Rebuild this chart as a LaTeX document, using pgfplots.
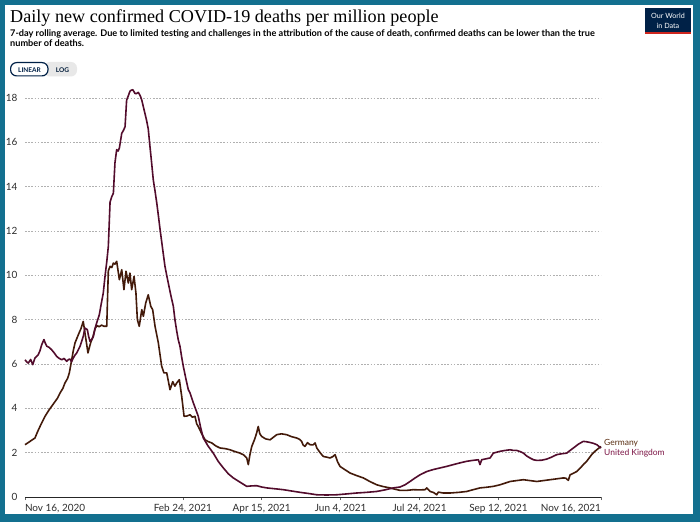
\documentclass[border=0pt]{standalone}
\usepackage{fontspec}
\setmainfont{Lato}
\newfontfamily\titlefont{Liberation Serif}
\usepackage{pgfplots}
\pgfplotsset{compat=1.18}

\definecolor{owidframe}{HTML}{13708F}
\definecolor{germany}{HTML}{431A0A}
\definecolor{uk}{HTML}{520C2C}
\definecolor{germanylbl}{HTML}{5A2E12}
\definecolor{uklbl}{HTML}{7C1545}
\definecolor{owidblue}{HTML}{002147}
\definecolor{owidred}{HTML}{CE261E}
\definecolor{ticktext}{HTML}{2E2E2E}
\definecolor{gridgray}{HTML}{B0B0B0}

\begin{document}
\begin{tikzpicture}
\path[use as bounding box] (0,0) rectangle (700bp,522bp);
\begin{scope}[x=1bp, y=-1bp, shift={(0,522bp)}]
% frame
\fill[owidframe] (0,0) rectangle (700,522);
\fill[white] (5,5) rectangle (693,514);

% title and subtitle
\node[anchor=base west, inner sep=0] at (10,23)
  {\titlefont\fontsize{18.2}{18}\selectfont Daily new confirmed COVID-19 deaths per million people};
\node[anchor=base west, inner sep=0] at (10,36.5)
  {\bfseries\fontsize{9.2}{10}\selectfont 7-day rolling average. Due to limited testing and challenges in the attribution of the cause of death, confirmed deaths can be lower than the true};
\node[anchor=base west, inner sep=0] at (10,46.5)
  {\bfseries\fontsize{9.2}{10}\selectfont number of deaths.};

% LINEAR / LOG switch
\fill[gray!18, rounded corners=6bp] (44,62) rectangle (77,76.5);
\fill[white, rounded corners=6bp] (10,62) rectangle (48,76.5);
\draw[owidblue, line width=1.2bp, rounded corners=6bp] (10.6,62.6) rectangle (48,75.9);
\node[inner sep=0, anchor=base] at (29.5,72.3) {\bfseries\fontsize{6.5}{7}\selectfont\color{owidblue}LINEAR};
\node[inner sep=0, anchor=base] at (62.5,72.3) {\bfseries\fontsize{6.5}{7}\selectfont\color{owidblue!80!black}LOG};

% logo
\fill[owidblue] (645,8) rectangle (691,34);
\fill[owidred] (645,32.5) rectangle (691,34);
\node[inner sep=0, anchor=base, text=white] at (668,19) {\fontsize{7.2}{7}\selectfont Our World};
\node[inner sep=0, anchor=base, text=white] at (668,28.5) {\fontsize{7.2}{7}\selectfont in Data};

% series labels at the line ends
\node[anchor=west, inner sep=0, text=germanylbl] at (604,443) {\fontsize{8.5}{9}\selectfont Germany};
\node[anchor=west, inner sep=0, text=uklbl] at (604,453) {\fontsize{8.5}{9}\selectfont United Kingdom};
\end{scope}

\begin{axis}[
  at={(25bp,25bp)}, anchor=south west,
  scale only axis, width=576bp, height=412.4bp,
  xmin=0, xmax=365, ymin=0, ymax=18.6,
  axis x line*=bottom, axis y line*=left,
  x axis line style={draw=black!85, line width=0.8bp},
  y axis line style={draw=none},
  ytick={0,2,...,18}, ytick style={draw=none},
  xtick={0,100,150,200,250,300,365},
  xticklabels={{\makebox[0pt][l]{Nov 16, 2020}},{Feb 24, 2021},{Apr 15, 2021},{Jun 4, 2021},{Jul 24, 2021},{Sep 12, 2021},{\makebox[0pt][r]{Nov 16, 2021}}},
  tick align=outside, major tick length=3bp,
  xtick style={draw=black!60, line width=0.6bp},
  ymajorgrids, grid style={gridgray, line width=0.6bp, dash pattern=on 1.6bp off 1.6bp},
  /pgf/number format/assume math mode=true,
  tick label style={font=\fontsize{10}{10}\selectfont, text=ticktext},
  yticklabel style={xshift=-1bp},
  xticklabel style={yshift=-1bp},
  clip=false,
]
% Germany
\addplot[germany, line width=1.6bp, line join=round] coordinates {
(0,2.36) (2,2.45) (4,2.55) (6.3,2.66) (8,2.95) (9.5,3.18) (11,3.4) (12.7,3.64) (15,3.9) (16.9,4.09)
(19,4.3) (20.5,4.45) (22.2,4.69) (24,4.9) (25.3,5.14) (27,5.35) (28.1,5.6) (29.6,6.19) (30.6,6.6)
(31.7,6.95) (33.8,7.32) (35.5,7.6) (36.9,7.92) (38.2,7.3) (39.9,6.5) (41,6.8) (41.8,7.0) (43,7.2)
(44.4,7.6) (45.6,7.73) (47,7.68) (48.5,7.75) (50,7.7) (51.8,7.7) (52.8,10.2) (53.9,10.4) (55,10.35)
(56.0,10.55) (57,10.5) (58.1,10.63) (59.8,9.8) (61.3,10.25) (62.7,9.35) (64.0,10.18) (65.5,9.65)
(66.5,10.1) (67.6,9.35) (69.1,9.95) (70.3,9.2) (71.2,8.0) (72.4,7.7) (74.0,8.45) (75.0,8.15)
(76.5,8.75) (78.1,9.12) (79.7,8.6) (80.9,8.45) (82.4,7.7) (84.5,6.95) (86.6,5.9) (88,5.6) (89.8,5.6)
(91.9,4.84) (93.6,5.2) (95,5.0) (96.1,5.14) (97.8,5.29) (99.3,4.54) (100.8,3.64) (102.5,3.65)
(104.6,3.71) (106,3.6) (107.7,3.64) (108.8,3.3) (109.8,3.18) (112,2.85) (114.1,2.58) (116,2.5)
(118.3,2.44) (121,2.3) (123.6,2.21) (127,2.18) (129.9,2.13) (133,2.05) (136.2,1.98) (138.5,1.9)
(140.5,1.76) (141.5,1.46) (142.5,1.9) (143.7,2.28) (145.5,2.6) (146.8,2.89) (147.8,3.18) (148.8,2.85)
(150.0,2.73) (152.5,2.62) (155.3,2.58) (157.5,2.7) (159.5,2.81) (162.5,2.85) (165.8,2.81) (169,2.72)
(172.2,2.66) (174,2.6) (175.3,2.51) (176.2,2.35) (177.4,2.28) (179,2.45) (180.6,2.36) (182.5,2.35)
(183.8,2.44) (184.9,2.21) (187,2.0) (189.0,1.83) (191,1.8) (193.3,1.76) (195,1.82) (196.5,1.91)
(198,1.6) (199.6,1.38) (203,1.22) (206.0,1.08) (210,0.97) (214.4,0.86) (218.5,0.7) (222.9,0.55)
(227,0.47) (231.3,0.41) (234.5,0.35) (237.6,0.3) (242,0.3) (246.1,0.33) (250,0.32) (253.5,0.33)
(254.6,0.41) (256.7,0.25) (259,0.2) (260.9,0.1) (261.9,0.22) (265,0.18) (269.3,0.18) (275,0.21)
(279.9,0.25) (284,0.33) (288.3,0.41) (292.5,0.44) (296.8,0.48) (301.0,0.55) (304,0.62) (307.4,0.7)
(311.5,0.74) (315.8,0.78) (320,0.74) (324.3,0.7) (328.5,0.74) (332.7,0.78) (337,0.82) (341.1,0.86)
(342.7,0.85) (344.3,0.75) (345.4,1.0) (347.5,1.07) (349.6,1.15) (351,1.25) (352.8,1.38) (354.3,1.5)
(355.9,1.61) (357.5,1.76) (359.1,1.91) (360.7,2.03) (362.3,2.13) (365,2.28)
};
% United Kingdom
\addplot[uk, line width=1.6bp, line join=round] coordinates {
(0,6.19) (1,6.1) (2.1,6.04) (3.6,6.2) (4.9,5.97) (6.3,6.27) (8.4,6.42) (9.5,6.6) (10.6,6.87) (12.0,7.1)
(12.8,6.95) (13.8,6.8) (15.3,6.75) (16.9,6.64) (18.5,6.5) (20.1,6.34) (21.7,6.25) (23.3,6.19)
(24.8,6.25) (26.4,6.12) (27.5,6.2) (28.5,6.22) (29.5,6.1) (30.6,6.27) (31.7,6.4) (32.8,6.5)
(34.9,6.8) (36.9,7.24) (38.0,7.62) (39.5,7.55) (40.3,7.25) (41.2,7.02) (42.2,7.1) (43.3,7.24)
(44.4,7.6) (45.4,7.85) (47.1,8.22) (48.2,8.67) (49.6,9.2) (50.7,9.95) (51.8,10.6) (52.8,11.3)
(53.9,13.3) (55,13.55) (56.0,13.7) (57.0,15.07) (58.1,15.67) (59.0,15.6) (59.8,15.74) (61.3,16.4)
(62.5,16.55) (63.4,16.7) (64.4,17.9) (65.5,18.1) (66.5,18.3) (67.4,18.35) (68.3,18.37) (69.7,18.2)
(70.8,18.2) (71.8,18.25) (73,18.1) (74.0,17.9) (75,17.6) (76.0,17.3) (77,17.0) (78.1,16.6)
(79.2,15.8) (80.2,15.1) (81.3,14.3) (82.4,13.8) (83.5,13.26) (84.5,12.7) (85.6,12.06) (87.2,11.2)
(88.7,10.4) (89.8,10.0) (90.8,9.65) (92.4,9.1) (94.0,8.6) (95,8.0) (96.1,7.5) (97.1,7.1) (98.2,6.8)
(99.3,6.3) (100.3,5.9) (101.9,5.35) (103.5,4.84) (104.6,4.69) (106.7,4.24) (108.2,3.95) (109.8,3.64)
(111.4,3.1) (113.0,2.66) (116,2.3) (119.3,1.98) (122.5,1.6) (125.7,1.31) (128.8,1.05) (132.0,0.86)
(136,0.68) (140.5,0.48) (143.5,0.5) (146.8,0.51) (150,0.45) (153.2,0.41) (158.5,0.37) (163.7,0.33)
(169,0.27) (174.3,0.21) (179.5,0.16) (184.9,0.1) (191,0.09) (197.5,0.1) (204,0.14) (210.2,0.18)
(216.5,0.21) (222.9,0.25) (228,0.32) (233.4,0.41) (237.6,0.45) (240.8,0.55) (244.0,0.7) (247,0.85)
(250.3,1.0) (254.6,1.15) (258.8,1.24) (263.0,1.31) (267.2,1.38) (271.4,1.46) (275.7,1.54) (279.9,1.61)
(283.6,1.65) (287.3,1.68) (288.3,1.46) (289.4,1.68) (292,1.72) (294.7,1.76) (296.8,1.98) (298.9,2.02)
(301.0,2.06) (304.2,2.1) (307.4,2.13) (309.5,2.1) (311.6,2.1) (313.7,2.05) (315.8,1.98) (317.9,1.85)
(320.0,1.76) (322.2,1.68) (324.3,1.65) (327.5,1.66) (330.6,1.71) (333.8,1.8) (336.9,1.91) (340,1.95)
(343.3,1.98) (345.4,2.1) (347.5,2.21) (350.6,2.38) (353.8,2.51) (356,2.49) (358.0,2.46) (360.2,2.42)
(362.3,2.36) (365,2.21)
};
\end{axis}
\end{tikzpicture}
\end{document}
